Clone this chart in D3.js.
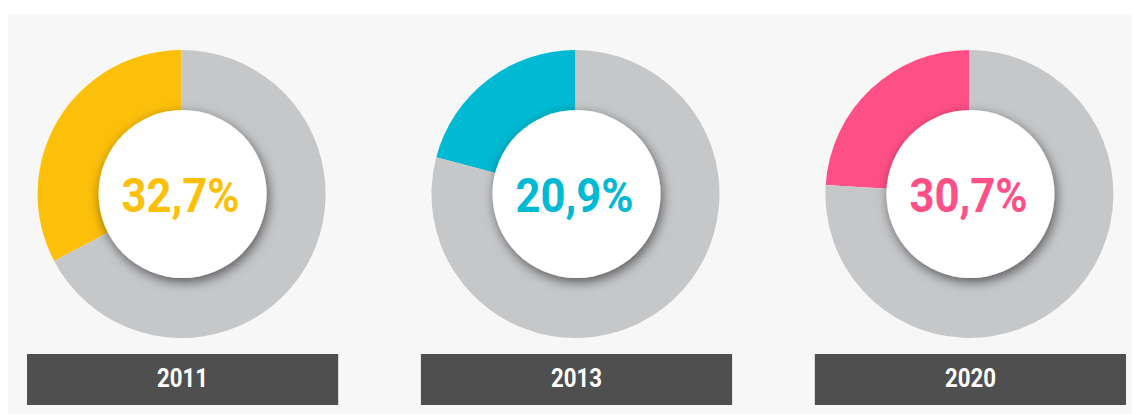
<!DOCTYPE html>
<html>
<head>
<meta charset="utf-8">
<script src="https://cdn.jsdelivr.net/npm/d3@7"></script>
<style>
  body { margin: 0; background: #fff; }
  svg { display: block; }
</style>
</head>
<body>
<svg width="1132" height="414"></svg>
<script>
// data
var years = ['2011', '2013', '2020'];
var labels = ['32,7%', '20,9%', '30,7%'];
var shares = [32.7, 20.9, 24.0];   // share of the ring that is coloured, as drawn
var colors = ['#fcbf0a', '#00b9d2', '#ff4f87'];

var svg = d3.select('svg');

// soft shadow under the white centre disc
var defs = svg.append('defs');
var f = defs.append('filter').attr('id', 'shadow')
    .attr('x', '-30%').attr('y', '-30%').attr('width', '160%').attr('height', '160%');
f.append('feDropShadow')
    .attr('dx', 2).attr('dy', 4)
    .attr('stdDeviation', 6)
    .attr('flood-color', '#000')
    .attr('flood-opacity', 0.55);

// light panel behind everything
svg.append('rect')
    .attr('x', 8).attr('y', 14)
    .attr('width', 1124).attr('height', 400)
    .attr('fill', '#f7f7f7');

var scaleX = d3.scaleBand().domain(years).range([27, 1126]).paddingInner(0.21);

var pie = d3.pie().sort(null).startAngle(0).endAngle(-2 * Math.PI);
var arc = d3.arc().innerRadius(78).outerRadius(144);

var groups = svg.selectAll('g.donut')
    .data(years)
    .enter()
    .append('g')
    .attr('class', 'donut')
    .attr('transform', function(d) {
        return 'translate(' + (scaleX(d) + scaleX.bandwidth() / 2) + ',0)';
    });

groups.each(function(year, i) {
    var g = d3.select(this);
    var ring = g.append('g').attr('transform', 'translate(-1,194)');
    ring.selectAll('path')
        .data(pie([shares[i], 100 - shares[i]]))
        .enter()
        .append('path')
        .attr('d', arc)
        .attr('fill', function(d, k) { return k === 0 ? colors[i] : '#c6c7c9'; });

    g.append('circle')
        .attr('cx', 0).attr('cy', 194)
        .attr('r', 84)
        .attr('fill', '#fff')
        .attr('filter', 'url(#shadow)');

    g.append('text')
        .attr('x', -2).attr('y', 212)
        .attr('text-anchor', 'middle')
        .attr('font-family', 'Roboto, sans-serif')
        .attr('font-weight', 'bold')
        .attr('font-size', 49)
        .attr('textLength', 118)
        .attr('lengthAdjust', 'spacingAndGlyphs')
        .attr('fill', colors[i])
        .text(labels[i]);

    // year box
    g.append('rect')
        .attr('x', -scaleX.bandwidth() / 2).attr('y', 354)
        .attr('width', scaleX.bandwidth()).attr('height', 51)
        .attr('fill', '#4f4f4f');

    g.append('text')
        .attr('x', 0).attr('y', 387)
        .attr('text-anchor', 'middle')
        .attr('font-family', 'Roboto, sans-serif')
        .attr('font-weight', 'bold')
        .attr('font-size', 26)
        .attr('textLength', 51)
        .attr('lengthAdjust', 'spacingAndGlyphs')
        .attr('fill', '#fff')
        .text(year);
});
</script>
</body>
</html>
